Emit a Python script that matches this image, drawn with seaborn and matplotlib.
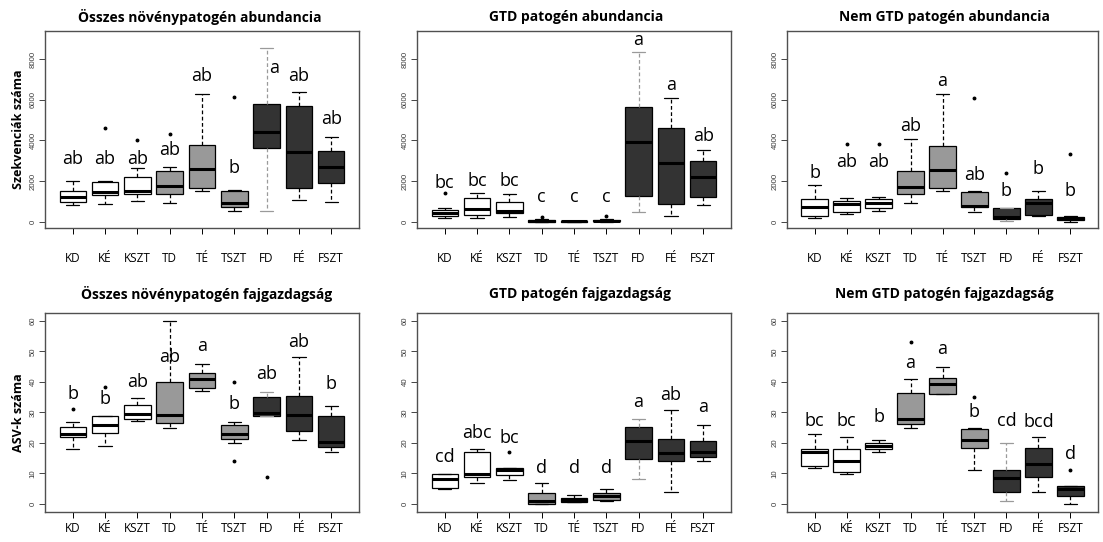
import numpy as np
import pandas as pd
import matplotlib
matplotlib.use("Agg")
import matplotlib.pyplot as plt
import matplotlib.transforms as mtransforms
import seaborn as sns

# ---------------- data ----------------
groups = ["KD", "KÉ", "KSZT", "TD", "TÉ", "TSZT", "FD", "FÉ", "FSZT"]
fill_colors = ["#ffffff"] * 3 + ["#999999"] * 3 + ["#333333"] * 3

titles = ["Összes növénypatogén abundancia", "GTD patogén abundancia",
          "Nem GTD patogén abundancia", "Összes növénypatogén fajgazdagság",
          "GTD patogén fajgazdagság", "Nem GTD patogén fajgazdagság"]
ylabels = ["Szekvenciák száma", "", "", "ASV-k száma", "", ""]

# Panel 1: Összes növénypatogén abundancia
p1_lo = [820, 870, 1030, 900, 1525, 541, 541, 1066, 984]
p1_q1 = [984, 1311, 1360, 1350, 1639, 705, 3607, 1639, 1885]
p1_med = [1230, 1475, 1525, 1754, 2574, 902, 4410, 3443, 2672]
p1_q3 = [1525, 1950, 2213, 2500, 3770, 1508, 5770, 5689, 3475]
p1_hi = [2000, 2000, 2623, 2705, 6262, 1557, 8557, 6393, 4180]
p1_out = [[], [4590], [4016], [4300], [], [6148], [], [], []]
p1_letters = ["ab", "ab", "ab", "ab", "ab", "b", "a", "ab", "ab"]
p1_letter_y = [3065, 3065, 3065, 3525, 7164, 2623, 7541, 7164, 5033]

# Panel 2: GTD patogén abundancia
p2_lo = [164, 164, 213, 0, 0, 0, 492, 279, 820]
p2_q1 = [279, 328, 410, 0, 0, 20, 1262, 869, 1197]
p2_med = [410, 607, 541, 15, 10, 50, 3934, 2869, 2180]
p2_q3 = [574, 1180, 984, 70, 30, 90, 5656, 4590, 2984]
p2_hi = [656, 1426, 1361, 120, 50, 150, 8328, 6098, 3525]
p2_out = [[1426], [], [], [250], [], [280], [], [], []]
p2_letters = ["bc", "bc", "bc", "c", "c", "c", "a", "a", "ab"]
p2_letter_y = [1918, 2000, 2000, 1197, 1197, 1197, 8934, 6721, 4213]

# Panel 3: Nem GTD patogén abundancia
p3_lo = [164, 361, 541, 902, 1525, 492, 49, 295, 0]
p3_q1 = [279, 492, 656, 1344, 1639, 705, 131, 328, 82]
p3_med = [738, 869, 934, 1689, 2541, 770, 246, 902, 164]
p3_q3 = [1115, 1016, 1115, 2508, 3738, 1475, 656, 1115, 246]
p3_hi = [1803, 1148, 1197, 4049, 6262, 1525, 656, 1508, 279]
p3_out = [[], [3820], [3820], [], [], [6066], [2377], [], [3311]]
p3_letters = ["b", "ab", "ab", "ab", "a", "ab", "b", "b", "b"]
p3_letter_y = [2377, 2918, 2918, 4705, 6918, 2295, 1525, 2574, 1525]

# Panel 4: Összes növénypatogén fajgazdagság
p4_lo = [18.0, 18.8, 27.0, 25.0, 37.1, 20.1, 28.9, 20.8, 16.9]
p4_q1 = [21.9, 23.3, 27.9, 26.5, 38.0, 21.4, 28.9, 24.0, 18.5]
p4_med = [23.0, 26.0, 29.6, 29.0, 41.0, 23.0, 29.9, 29.0, 20.4]
p4_q3 = [25.3, 28.9, 32.5, 40.0, 43.0, 25.8, 34.9, 35.4, 28.9]
p4_hi = [26.9, 28.9, 34.8, 60.0, 45.9, 26.9, 36.6, 48.1, 32.1]
p4_out = [[31.0], [38.2], [], [], [], [14.0, 39.9], [8.8], [], []]
p4_letters = ["b", "b", "ab", "ab", "a", "b", "ab", "ab", "b"]
p4_letter_y = [36.0, 34.4, 40.0, 48.3, 51.9, 32.9, 42.5, 53.2, 39.3]

# Panel 5: GTD patogén fajgazdagság
p5_lo = [4.7, 6.9, 7.9, 0.0, 0.5, 0.9, 8.0, 3.9, 14.0]
p5_q1 = [5.2, 8.8, 9.3, 0.0, 0.5, 1.2, 14.8, 14.0, 15.4]
p5_med = [8.0, 9.9, 11.0, 0.9, 1.1, 2.5, 20.5, 16.5, 17.1]
p5_q3 = [9.8, 17.0, 11.8, 3.4, 2.0, 3.4, 25.1, 21.3, 20.6]
p5_hi = [9.8, 17.9, 11.8, 6.9, 2.8, 4.9, 27.8, 30.9, 26.0]
p5_out = [[], [], [17.0], [], [], [], [], [], []]
p5_letters = ["cd", "abc", "bc", "d", "d", "d", "a", "ab", "a"]
p5_letter_y = [15.3, 23.2, 21.6, 11.6, 11.6, 11.6, 33.4, 35.8, 31.7]

# Panel 6: Nem GTD patogén fajgazdagság
p6_lo = [11.9, 9.9, 16.9, 25.0, 36.0, 11.0, 0.9, 3.9, 0.0]
p6_q1 = [12.4, 10.4, 18.0, 26.3, 36.0, 18.3, 3.9, 8.8, 2.7]
p6_med = [16.9, 14.0, 19.0, 27.9, 39.4, 20.8, 8.5, 12.9, 5.0]
p6_q3 = [18.0, 18.0, 20.0, 36.5, 41.4, 24.4, 11.0, 18.3, 5.8]
p6_hi = [23.0, 21.9, 20.9, 41.0, 44.9, 25.0, 20.1, 21.8, 5.8]
p6_out = [[], [], [], [53.0], [], [35.2], [], [], [11.0]]
p6_letters = ["bc", "bc", "b", "a", "a", "b", "cd", "bcd", "d"]
p6_letter_y = [27.3, 27.3, 28.5, 46.3, 50.7, 30.1, 27.3, 26.8, 16.4]

abund_ticks = [0, 2000, 4000, 6000, 8000]
rich_ticks = [0, 10, 20, 30, 40, 50, 60]

panels = [
    (p1_lo, p1_q1, p1_med, p1_q3, p1_hi, p1_out, p1_letters, p1_letter_y),
    (p2_lo, p2_q1, p2_med, p2_q3, p2_hi, p2_out, p2_letters, p2_letter_y),
    (p3_lo, p3_q1, p3_med, p3_q3, p3_hi, p3_out, p3_letters, p3_letter_y),
    (p4_lo, p4_q1, p4_med, p4_q3, p4_hi, p4_out, p4_letters, p4_letter_y),
    (p5_lo, p5_q1, p5_med, p5_q3, p5_hi, p5_out, p5_letters, p5_letter_y),
    (p6_lo, p6_q1, p6_med, p6_q3, p6_hi, p6_out, p6_letters, p6_letter_y),
]


def sample_from_summary(lo, q1, med, q3, hi, outs, m=4):
    """Build a small sample whose box-plot statistics equal the given summary."""
    low = sorted(o for o in outs if o < lo)
    high = sorted(o for o in outs if o > hi)
    n = 4 * m + 1
    left = low + [lo]
    right = [hi] + high
    vals = []
    for i in range(n):
        if i < len(left):
            vals.append(left[i])
        elif i >= n - len(right):
            vals.append(right[i - (n - len(right))])
        elif i <= m:
            vals.append(q1)
        elif i <= 2 * m:
            vals.append(med)
        else:
            vals.append(q3)
    return vals


# ---------------- style ----------------
sns.set_theme(style="white")
plt.rcParams["font.family"] = ["Open Sans", "DejaVu Sans"]

W, H = 1103, 542
fig = plt.figure(figsize=(W / 100, H / 100), dpi=100)

col_x = [(45, 359), (417, 731), (787, 1098)]
row_y = [(31, 228), (313, 512)]
title_x = [200, 576, 944, 207, 580, 944]
title_y = [17, 17, 17, 294, 294, 294]
label_gap = [30, 30, 30, 17, 17, 17]
# small horizontal nudges of letters (panel, group) -> dx
letter_dx = {(0, 6): 0.22}
faded_whisker_group = 6  # FD whiskers look lighter in the reference

for k, (lo, q1, med, q3, hi, outs, letters, letter_y) in enumerate(panels):
    r, c = divmod(k, 3)
    x0, x1 = col_x[c]
    y0, y1 = row_y[r]
    ax = fig.add_axes([x0 / W, 1 - y1 / H, (x1 - x0) / W, (y1 - y0) / H])

    rows = []
    for i, g in enumerate(groups):
        for v in sample_from_summary(lo[i], q1[i], med[i], q3[i], hi[i], outs[i]):
            rows.append({"group": g, "value": v})
    df = pd.DataFrame(rows)

    sns.boxplot(
        data=df, x="group", y="value", hue="group", order=groups, hue_order=groups,
        palette=dict(zip(groups, fill_colors)), saturation=1, width=0.82,
        linecolor="black", linewidth=0.9, whis=1.5, legend=False, ax=ax,
        medianprops={"color": "black", "linewidth": 2.2},
        whiskerprops={"color": "black", "linewidth": 0.9, "linestyle": (0, (3, 2))},
        capprops={"color": "black", "linewidth": 0.9},
        flierprops={"marker": "o", "markersize": 1.8, "markerfacecolor": "black",
                    "markeredgecolor": "black"},
    )
    # lighten whiskers/caps of the FD group (as rendered in the reference)
    for ln in ax.lines:
        xd = np.asarray(ln.get_xdata(), dtype=float)
        if len(xd) == 2 and ln.get_linewidth() < 1.5 and ln.get_marker() in ("None", None, ""):
            if abs(xd.mean() - faded_whisker_group) < 0.05:
                ln.set_color("#9a9a9a")

    ax.set_xlim(-0.86, 8.86)
    if r == 0:
        ax.set_ylim(-310, 9378)
        ticks = abund_ticks
    else:
        ax.set_ylim(-2.7, 62.6)
        ticks = rich_ticks
    ax.set_yticks(ticks)
    ax.set_yticklabels([str(t) for t in ticks], rotation=90, va="center",
                       fontsize=5.6, color="#3a3a3a", family="Liberation Sans")
    ax.tick_params(axis="y", length=4, width=0.7, color="#444444", pad=2, left=True)
    ax.set_xticks(range(len(groups)))
    ax.set_xticklabels([])
    ax.tick_params(axis="x", length=4, width=0.7, color="black", bottom=True)
    ax.set_xlabel("")
    ax.set_ylabel("")
    for s in ax.spines.values():
        s.set_color("#505050")
        s.set_linewidth(1.0)

    # group names under the axis
    trans = mtransforms.blended_transform_factory(ax.transData, ax.transAxes)
    for i, g in enumerate(groups):
        ax.text(i, -label_gap[k] / (y1 - y0), g, transform=trans, ha="center",
                va="center", fontsize=8.5, color="black")

    # significance letters
    for i, (lt, ly) in enumerate(zip(letters, letter_y)):
        ax.text(i + letter_dx.get((k, i), 0), ly, lt, ha="center", va="center",
                fontsize=13, color="black")

    fig.text(title_x[k] / W, 1 - title_y[k] / H, titles[k], ha="center", va="center",
             fontsize=10, fontweight="bold", color="black")
    if ylabels[k]:
        fig.text(19 / W, 1 - (y0 + y1) / 2 / H, ylabels[k], rotation=90, ha="center",
                 va="center", fontsize=9, fontweight="bold", color="black")

fig.savefig("out.png", dpi=100, facecolor="white")
